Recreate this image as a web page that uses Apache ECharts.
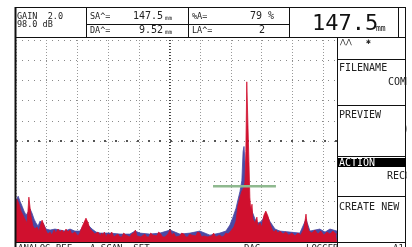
<!DOCTYPE html>
<html>
<head>
<meta charset="utf-8">
<script src="https://cdn.jsdelivr.net/npm/echarts@6/dist/echarts.min.js"></script>
<style>html,body{margin:0;padding:0;background:#fff;}#c{width:412px;height:247px;}</style>
</head>
<body>
<div id="c"></div>
<script>
// Screen position (0-104.6, 10 per division) and amplitude (% screen height)
const redEcho = [[0,17.7],[0.3,21.2],[1.0,18.7],[1.6,15.3],[2.3,13.3],[2.9,11.3],[3.6,9.4],[3.9,15.3],[4.2,22.2],[4.6,21.7],[4.9,12.8],[5.5,7.9],[6.2,6.4],[6.8,7.4],[7.5,5.4],[8.1,8.9],[8.5,10.8],[9.1,8.4],[9.8,5.4],[10.4,3.9],[11.1,4.9],[11.7,3.4],[12.4,5.9],[13.0,4.4],[13.7,6.4],[14.3,4.9],[15.0,5.9],[15.6,4.4],[16.3,6.4],[16.9,4.9],[17.6,5.9],[18.2,3.9],[19.2,4.9],[20.2,3.0],[20.8,4.4],[21.5,7.4],[22.1,9.4],[22.8,11.8],[23.5,9.4],[24.1,6.4],[24.8,5.4],[25.7,3.9],[26.7,4.9],[27.4,3.0],[27.9,4.4],[28.3,3.4],[28.8,4.9],[29.3,2.5],[29.9,3.9],[30.6,3.4],[31.2,4.9],[31.9,2.5],[32.5,3.4],[33.2,3.9],[33.8,2.5],[34.5,2.5],[35.1,4.4],[35.8,3.4],[36.4,2.5],[37.1,2.5],[37.7,3.9],[38.4,4.4],[38.9,5.9],[39.4,3.0],[40.0,3.9],[40.7,2.5],[41.3,3.4],[42.0,3.9],[42.6,2.5],[43.3,2.5],[43.9,4.4],[44.6,3.4],[45.2,2.5],[45.9,3.0],[46.5,4.9],[47.2,3.9],[47.8,2.5],[48.5,2.5],[49.0,3.4],[49.5,3.9],[50.2,5.9],[50.8,3.4],[51.4,4.4],[52.1,2.5],[52.7,3.4],[53.4,3.0],[54.0,4.4],[54.7,3.9],[55.3,2.5],[56.0,2.5],[56.6,3.9],[57.3,3.4],[57.9,2.5],[58.6,3.0],[59.2,4.9],[59.9,4.4],[60.5,2.5],[61.2,3.0],[61.8,3.9],[62.5,2.5],[63.1,3.4],[63.8,3.0],[64.4,4.4],[65.1,2.5],[65.7,3.4],[66.4,3.4],[67.1,2.5],[67.8,3.0],[68.4,4.4],[69.1,3.9],[70.0,5.4],[71.0,7.4],[71.7,10.4],[72.3,17.7],[73.0,22.2],[73.6,25.1],[74.3,27.1],[74.6,29.6],[74.9,44.8],[75.2,79.3],[75.6,79.3],[75.9,39.9],[76.2,22.2],[76.5,15.3],[76.9,18.7],[77.2,11.3],[77.9,9.4],[78.5,12.3],[78.8,7.9],[79.5,9.4],[80.1,7.4],[80.8,13.3],[81.4,15.3],[82.1,12.8],[82.7,9.4],[83.4,6.4],[84.0,4.9],[84.7,5.9],[85.3,4.4],[86.0,5.4],[87.0,3.9],[87.9,4.9],[88.9,3.4],[89.9,4.4],[90.9,3.0],[91.9,4.4],[92.8,3.4],[93.8,6.4],[94.5,13.8],[94.8,9.4],[95.4,5.4],[96.4,4.4],[97.4,5.9],[98.4,3.9],[99.3,5.4],[100.3,3.4],[101.3,4.9],[102.3,3.9],[103.3,5.4],[104.2,3.9],[104.6,3.9]];
const blueEcho = [[0,20.2],[0.7,22.7],[1.3,20.2],[2.0,17.7],[2.6,15.3],[3.3,13.3],[3.9,12.8],[4.6,16.3],[5.2,14.3],[5.9,11.3],[6.5,9.4],[7.2,7.9],[7.8,10.3],[8.8,9.4],[9.8,6.4],[11.1,5.9],[12.7,6.4],[14.3,5.9],[16.0,5.4],[17.6,6.4],[19.2,5.4],[20.8,5.4],[22.1,8.4],[22.8,10.8],[23.5,8.4],[24.8,6.4],[26.1,4.9],[27.4,4.4],[30.6,4.4],[33.9,3.9],[37.1,3.9],[38.8,5.4],[40.4,4.4],[43.6,3.9],[46.9,4.4],[50.2,5.9],[53.4,3.9],[56.7,4.4],[59.9,5.4],[63.2,3.4],[66.4,4.4],[68.4,5.4],[69.7,8.4],[70.7,12.3],[71.7,16.7],[72.3,20.7],[73.0,25.1],[73.6,30.5],[74.0,44.8],[74.3,47.3],[74.6,39.9],[74.9,27.6],[75.6,22.7],[76.2,17.7],[76.9,15.3],[77.9,11.3],[78.8,9.4],[80.1,10.3],[81.4,14.3],[82.7,10.3],[84.4,6.4],[86.0,5.4],[89.3,4.9],[92.5,4.4],[94.5,11.3],[95.8,5.4],[99.0,6.4],[100.7,4.9],[102.3,6.4],[104.6,5.4]];
const gateStart = 64.2, gateEnd = 84.7, gateLevel = 27.6;
const gainText = ['GAIN  2.0', '98.0 dB'];
const soundPath = ['SA^=', '147.5', 'DA^=', '9.52'];
const ampText = ['%A=', '79 %', 'LA^=', '2'];
const bigReading = '147.5';
const menuItems = ['FILENAME', 'COMMENT', 'PREVIEW', 'ACTION', 'RECORD', 'CREATE NEW'];

const chart = echarts.init(document.getElementById('c'), null, {renderer: 'canvas'});
const mono = 'DejaVu Sans Mono';
function T(x, y, text, size, opts) {
  return Object.assign({type: 'text', x: x, y: y, z: 100,
    style: Object.assign({text: text, font: size + 'px "' + mono + '"', fill: '#222', verticalAlign: 'top'}, opts || {})});
}
function L(x1, y1, x2, y2, w, c) {
  return {type: 'line', z: 100, shape: {x1: x1, y1: y1, x2: x2, y2: y2}, style: {stroke: c || '#111', lineWidth: w || 1}};
}
const graphics = [
  // header frame
  L(15, 7.5, 406, 7.5, 1),
  L(15.5, 7, 15.5, 247, 2),
  L(15, 37.5, 406, 37.5, 1),
  L(86.5, 7, 86.5, 37, 1),
  L(188.5, 7, 188.5, 37, 1),
  L(289.5, 7, 289.5, 37, 1),
  L(398.5, 7, 398.5, 37, 1),
  L(405.5, 7, 405.5, 247, 1),
  L(86, 24.5, 289, 24.5, 1),
  // header texts
  T(17, 12, gainText[0], 8.5),
  T(17, 20, gainText[1], 8.5),
  T(90, 12, soundPath[0], 8.5),
  T(133, 11, soundPath[1], 10),
  T(165, 15, 'mm', 6),
  T(90, 26, soundPath[2], 8.5),
  T(139, 25, soundPath[3], 10),
  T(165, 29, 'mm', 6),
  T(192, 12, ampText[0], 8.5),
  T(250, 11, ampText[1], 10),
  T(192, 26, ampText[2], 8.5),
  T(259, 25, ampText[3], 10),
  T(312, 13, bigReading, 22, {fill: '#111'}),
  T(376, 25, 'mm', 8, {fill: '#111'}),
  // right menu panel
  L(337.5, 37, 337.5, 247, 1),
  L(337, 59.5, 406, 59.5, 1),
  L(337, 105.5, 406, 105.5, 1),
  L(337, 156.5, 406, 156.5, 1),
  L(337, 196.5, 406, 196.5, 1),
  L(337, 242.5, 406, 242.5, 1),
  T(340, 39, '⋀⋀', 7),
  T(366, 38, '✱', 8),
  T(339, 63, menuItems[0], 10),
  T(388, 77, menuItems[1], 10),
  T(339, 110, menuItems[2], 10),
  T(404, 124, '(', 10),
  {type: 'rect', z: 100, shape: {x: 338, y: 158, width: 68, height: 9}, style: {fill: '#000'}},
  T(339, 158, menuItems[3], 10, {fill: '#fff'}),
  T(387, 171, menuItems[4], 10),
  T(339, 202, menuItems[5], 10),
  // cut-off status row
  T(18, 244, 'ANALOG REF', 9),
  T(90, 244, 'A-SCAN  SET', 9),
  T(244, 244, 'DAC', 9),
  T(306, 244, 'LOGGER', 9),
  T(393, 244, 'A1', 9),
  {type: 'rect', z: 110, shape: {x: 406.5, y: 0, width: 6, height: 247}, style: {fill: '#fff'}}
];

const option = {
  animation: false,
  backgroundColor: '#fff',
  grid: {left: 16, right: 75, top: 40, bottom: 5},
  xAxis: {
    type: 'value', min: 0, max: 104.6, interval: 10,
    axisLine: {show: true, onZero: false, lineStyle: {color: '#111', width: 1}},
    axisTick: {show: false}, axisLabel: {show: false},
    splitLine: {show: true, lineStyle: {color: '#999', type: [1, 2], width: 1}}
  },
  yAxis: {
    type: 'value', min: 0, max: 100, interval: 10,
    axisLine: {show: false}, axisTick: {show: false}, axisLabel: {show: false},
    splitLine: {show: true, lineStyle: {color: '#8a8a8a', type: [1, 5], width: 1}}
  },
  series: [
    {
      type: 'line', data: blueEcho, showSymbol: false, symbol: 'none',
      lineStyle: {color: '#4a4aa4', width: 0.8},
      areaStyle: {color: '#4a4aa4', opacity: 1}, z: 2
    },
    {
      type: 'line', data: redEcho, showSymbol: false, symbol: 'none',
      lineStyle: {color: '#d0102e', width: 0.8},
      areaStyle: {color: '#d0102e', opacity: 1}, z: 3,
      markLine: {
        silent: true, symbol: 'none', label: {show: false}, z: 1,
        data: [
          {xAxis: 50, lineStyle: {color: '#222', type: [1, 2], width: 1.6}},
          {yAxis: 50, lineStyle: {color: '#555', type: [2, 9], width: 2}}
        ]
      }
    },
    {
      type: 'line', data: [[gateStart, gateLevel], [gateEnd, gateLevel]],
      showSymbol: false, symbol: 'none',
      lineStyle: {color: '#8fb98f', width: 2.5}, z: 5
    }
  ],
  graphic: graphics
};
chart.setOption(option);
</script>
</body>
</html>
